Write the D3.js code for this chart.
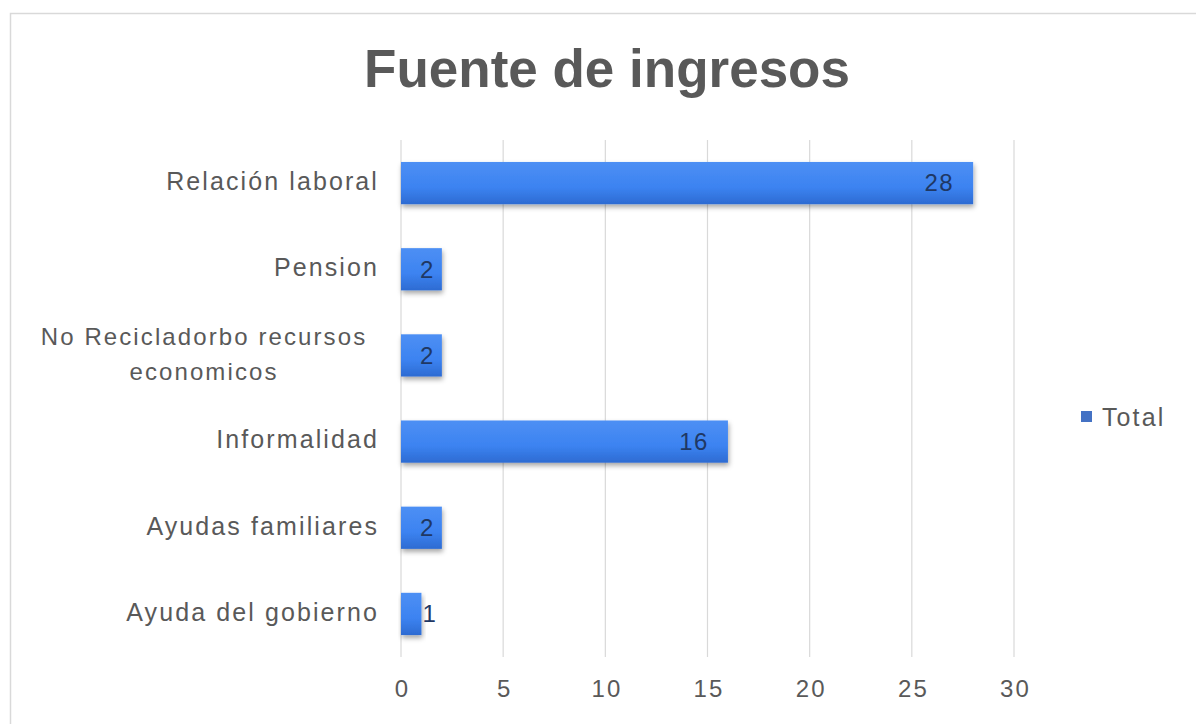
<!DOCTYPE html>
<html><head><meta charset="utf-8">
<script src="https://cdn.jsdelivr.net/npm/d3@7/dist/d3.min.js"></script>
<style>body{margin:0;background:#fff}svg{display:block}</style>
</head><body><svg id="c" width="1196" height="724"></svg>
<script>
const categories = ["Relación laboral","Pension","No Recicladorbo recursos economicos","Informalidad","Ayudas familiares","Ayuda del gobierno"];
const values = [28,2,2,16,2,1];
const ticks = [0,5,10,15,20,25,30];
const seriesName = "Total";

const svg = d3.select("#c");
const font = "Liberation Sans, Arial, sans-serif";
const gray = "#595959";
const LS = 2.1;

// frame
svg.append("rect").attr("x",10.5).attr("y",13.5).attr("width",1200).attr("height",720)
  .attr("fill","none").attr("stroke","#d9d9d9").attr("stroke-width",1.5);

const defs = svg.append("defs");
const grad = defs.append("linearGradient").attr("id","g").attr("x1",0).attr("y1",0).attr("x2",0).attr("y2",1);
grad.append("stop").attr("offset","0%").attr("stop-color","#4d8ff4");
grad.append("stop").attr("offset","60%").attr("stop-color","#3c83f1");
grad.append("stop").attr("offset","100%").attr("stop-color","#2d6bd2");
const f = defs.append("filter").attr("id","sh").attr("x","-10%").attr("y","-30%").attr("width","130%").attr("height","170%");
f.append("feDropShadow").attr("dx",1).attr("dy",3).attr("stdDeviation",2.5).attr("flood-color","#000").attr("flood-opacity",0.35);

const x = d3.scaleLinear().domain([0,30]).range([401,1014]);
const y = d3.scaleBand().domain(categories).range([140,657]).paddingInner(0.51).paddingOuter(0.255);

// title
svg.append("text").attr("x",607).attr("y",87).attr("text-anchor","middle")
  .attr("font-family",font).attr("font-weight","bold").attr("font-size",53).attr("fill",gray)
  .text("Fuente de ingresos");

// gridlines
svg.append("g").selectAll("line").data(ticks).join("line")
  .attr("x1",d=>x(d)).attr("x2",d=>x(d)).attr("y1",140).attr("y2",657)
  .attr("stroke","#d9d9d9").attr("stroke-width",1.2);

// x axis
const xa = svg.append("g").attr("transform","translate(0,657)")
  .call(d3.axisBottom(x).tickValues(ticks).tickSize(0).tickPadding(23));
xa.select(".domain").remove();
xa.selectAll("text").attr("font-family",font).attr("font-size",24).attr("letter-spacing",LS)
  .attr("fill",gray).attr("dx",LS/2);

// y axis labels
const ya = svg.append("g").attr("transform","translate(401,0)")
  .call(d3.axisLeft(y).tickSize(0).tickPadding(22));
ya.select(".domain").remove();
ya.selectAll("text").attr("font-family",font).attr("font-size",25).attr("letter-spacing",LS)
  .attr("fill",gray).attr("dy","0.27em")
  .each(function(d){
    const t = d3.select(this);
    if (d === "No Recicladorbo recursos economicos") {
      t.text(null).attr("dy",null).attr("font-size",24);
      const lines = ["No Recicladorbo recursos","economicos"];
      t.append("tspan").attr("x",-197).attr("dy","-0.42em").attr("text-anchor","middle").text(lines[0]);
      t.append("tspan").attr("x",-197).attr("dy","1.45em").attr("text-anchor","middle").text(lines[1]);
    }
  });

// bars
svg.append("g").selectAll("rect").data(values).join("rect")
  .attr("x",x(0)).attr("y",(d,i)=>y(categories[i]))
  .attr("width",d=>x(d)-x(0)).attr("height",y.bandwidth())
  .attr("fill","url(#g)").attr("filter","url(#sh)");

// value labels
svg.append("g").selectAll("text").data(values).join("text")
  .attr("x",d=> d>=2 ? x(d)-Math.min(19,(x(d)-x(0))*0.17) : x(d)+1)
  .attr("y",(d,i)=>y(categories[i])+y.bandwidth()/2)
  .attr("dy","0.35em")
  .attr("text-anchor",d=> d>=2 ? "end" : "start")
  .attr("font-family",font).attr("font-size",24).attr("letter-spacing",1.5).attr("fill","#1f3864")
  .text(d=>d);

// legend
const lg = svg.append("g");
lg.append("rect").attr("x",1081).attr("y",411).attr("width",11).attr("height",11).attr("fill","#4472c4");
lg.append("text").attr("x",1102).attr("y",417).attr("dy","0.36em")
  .attr("font-family",font).attr("font-size",25).attr("letter-spacing",LS).attr("fill",gray).text(seriesName);
</script></body></html>
